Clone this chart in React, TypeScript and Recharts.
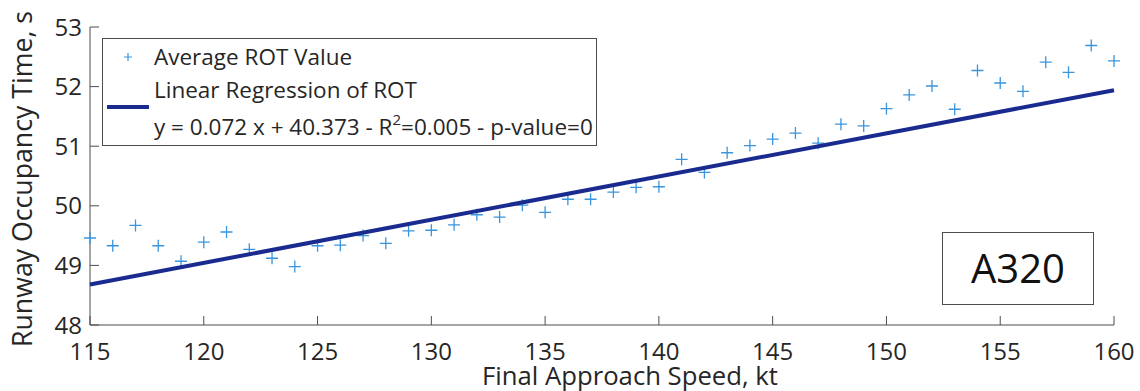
import React from "react";
import { ScatterChart, Scatter, XAxis, YAxis } from "recharts";

const speeds = [
  115, 116, 117, 118, 119, 120, 121, 122, 123, 124, 125, 126, 127, 128, 129, 130,
  131, 132, 133, 134, 135, 136, 137, 138, 139, 140, 141, 142, 143, 144, 145, 146,
  147, 148, 149, 150, 151, 152, 153, 154, 155, 156, 157, 158, 159, 160,
];
const avgRot = [
  49.46, 49.33, 49.67, 49.33, 49.07, 49.39, 49.56, 49.27, 49.12, 48.98, 49.33,
  49.34, 49.5, 49.37, 49.58, 49.59, 49.68, 49.85, 49.81, 50.01, 49.89, 50.11,
  50.11, 50.23, 50.31, 50.32, 50.78, 50.56, 50.89, 51.01, 51.12, 51.22, 51.05,
  51.37, 51.34, 51.63, 51.86, 52.01, 51.62, 52.27, 52.06, 51.92, 52.41, 52.24,
  52.69, 52.43,
];
const regSpeeds = [115, 160];
const regRot = [48.68, 51.94];

const xTicks = [115, 120, 125, 130, 135, 140, 145, 150, 155, 160];
const yTicks = [48, 49, 50, 51, 52, 53];

const points = speeds.map((x, i) => ({ x, y: avgRot[i] }));
const regression = regSpeeds.map((x, i) => ({ x, y: regRot[i] }));

const FONT = "'Open Sans', sans-serif";
const AXIS = "#4d4d4d";
const TEXT = "#262626";
const BLUE = "#3a95dd";
const NAVY = "#1a2b8f";
const TICK = 9;

const Plus = ({ cx, cy }: any) => (
  <path
    d={`M${cx - 6},${cy}H${cx + 6}M${cx},${cy - 6}V${cy + 6}`}
    stroke={BLUE}
    strokeWidth={1.3}
    fill="none"
  />
);

const BottomTick = ({ x, y, payload }: any) => (
  <g>
    <line x1={x} y1={y} x2={x} y2={y - TICK} stroke={AXIS} />
    <text x={x} y={y + 35} textAnchor="middle" fill={TEXT} fontSize={24} fontFamily={FONT}>
      {payload.value}
    </text>
  </g>
);

const TopTick = ({ x, y }: any) => (
  <line x1={x} y1={y} x2={x} y2={y + TICK} stroke={AXIS} />
);

const LeftTick = ({ x, y, payload }: any) => (
  <g>
    <line x1={x} y1={y} x2={x + TICK} y2={y} stroke={AXIS} />
    <text x={x - 8} y={y + 8.5} textAnchor="end" fill={TEXT} fontSize={24} fontFamily={FONT}>
      {payload.value}
    </text>
  </g>
);

const RightTick = ({ x, y }: any) => (
  <line x1={x} y1={y} x2={x - TICK} y2={y} stroke={AXIS} />
);

const Overlay = () => (
  <svg
    width={1140}
    height={391}
    style={{ position: "absolute", left: 0, top: 0, pointerEvents: "none" }}
    fontFamily={FONT}
  >
    <text
      x={630}
      y={385}
      textAnchor="middle"
      fill={TEXT}
      fontSize={26}
      textLength={296}
      lengthAdjust="spacingAndGlyphs"
    >
      Final Approach Speed, kt
    </text>
    <text
      transform="translate(32,179) rotate(-90)"
      textAnchor="middle"
      fill={TEXT}
      fontSize={27}
      textLength={336}
      lengthAdjust="spacingAndGlyphs"
    >
      Runway Occupancy Time, s
    </text>
    <rect x={102.5} y={38.5} width={494} height={107} fill="white" stroke={AXIS} />
    <path d="M124,57H132M128,53V61" stroke={BLUE} strokeWidth={1.2} />
    <line x1={107} y1={107} x2={149} y2={107} stroke={NAVY} strokeWidth={4} />
    <text x={154} y={65} fontSize={22.5} fill={TEXT}>
      Average ROT Value
    </text>
    <text x={154} y={98} fontSize={22.5} fill={TEXT}>
      Linear Regression of ROT
    </text>
    <text x={154} y={135} fontSize={22.5} fill={TEXT}>
      y = 0.072 x + 40.373 - R
      <tspan fontSize={15} dy={-10}>2</tspan>
      <tspan dy={10}>=0.005 - p-value=0</tspan>
    </text>
    <rect x={942.5} y={232.5} width={151} height={72} fill="white" stroke={AXIS} />
    <text x={1018} y={283} textAnchor="middle" fontSize={40} fill="#111">
      A320
    </text>
  </svg>
);

const App = () => (
  <div style={{ position: "absolute", left: 0, top: 0, width: 1140, height: 391, background: "white" }}>
    <ScatterChart
      width={1140}
      height={391}
      margin={{ top: 27, right: 26, bottom: 0, left: 0 }}
    >
      <XAxis
        type="number"
        dataKey="x"
        domain={[115, 160]}
        ticks={xTicks}
        height={66}
        tickSize={0}
        tickMargin={0}
        tickLine={false}
        axisLine={{ stroke: AXIS }}
        tick={<BottomTick />}
      />
      <XAxis
        xAxisId="top"
        orientation="top"
        type="number"
        dataKey="x"
        domain={[115, 160]}
        ticks={xTicks}
        height={0}
        tickSize={0}
        tickMargin={0}
        tickLine={false}
        axisLine={{ stroke: AXIS }}
        tick={<TopTick />}
      />
      <YAxis
        type="number"
        dataKey="y"
        domain={[48, 53]}
        ticks={yTicks}
        width={90}
        tickSize={0}
        tickMargin={0}
        tickLine={false}
        axisLine={{ stroke: AXIS }}
        tick={<LeftTick />}
      />
      <YAxis
        yAxisId="right"
        orientation="right"
        type="number"
        dataKey="y"
        domain={[48, 53]}
        ticks={yTicks}
        width={0}
        tickSize={0}
        tickMargin={0}
        tickLine={false}
        axisLine={{ stroke: AXIS }}
        tick={<RightTick />}
      />
      <Scatter data={points} shape={<Plus />} isAnimationActive={false} />
      <Scatter
        data={regression}
        line={{ stroke: NAVY, strokeWidth: 4 }}
        shape={() => <g />}
        isAnimationActive={false}
      />
    </ScatterChart>
    <Overlay />
  </div>
);

export default App;
